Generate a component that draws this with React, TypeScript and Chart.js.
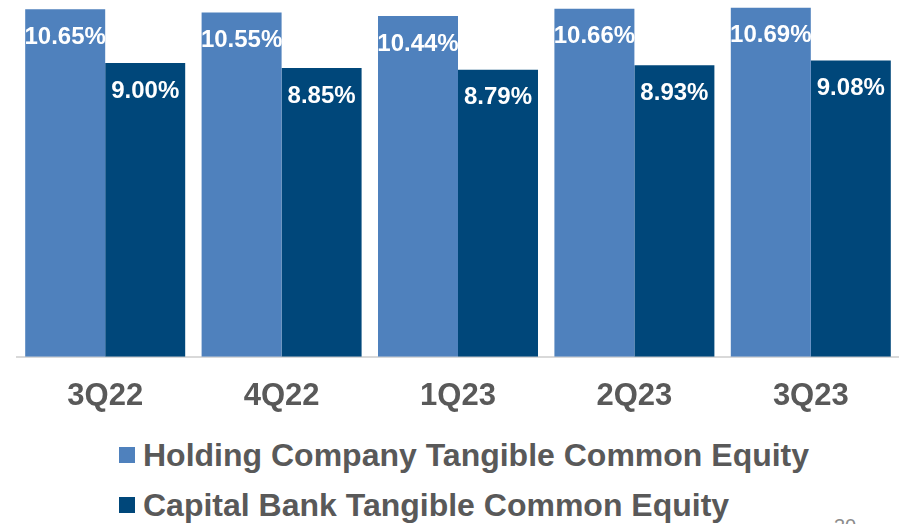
import React, { useEffect, useRef } from "react";
import { Chart, registerables } from "chart.js";

Chart.register(...registerables);

const categories = ["3Q22", "4Q22", "1Q23", "2Q23", "3Q23"];
const holdingValues = [10.65, 10.55, 10.44, 10.66, 10.69];
const bankValues = [9.0, 8.85, 8.79, 8.93, 9.08];
const seriesNames = [
  "Holding Company Tangible Common Equity",
  "Capital Bank Tangible Common Equity",
];
const seriesColors = ["#4F81BD", "#00477A"];

const FONT = "'Liberation Sans', Arial, sans-serif";

const valueLabels = {
  id: "valueLabels",
  afterDatasetsDraw(chart: any) {
    const ctx = chart.ctx;
    ctx.save();
    ctx.font = `bold 24px ${FONT}`;
    ctx.fillStyle = "#FFFFFF";
    ctx.textAlign = "center";
    ctx.textBaseline = "middle";
    chart.data.datasets.forEach((ds: any, di: number) => {
      const meta = chart.getDatasetMeta(di);
      meta.data.forEach((bar: any, i: number) => {
        const v = ds.data[i] as number;
        ctx.fillText(v.toFixed(2) + "%", bar.x, bar.y + 28);
      });
    });
    ctx.restore();
  },
};

export default function App() {
  const ref = useRef<HTMLCanvasElement>(null);

  useEffect(() => {
    document.body.style.margin = "0";
    const chart = new Chart(ref.current as HTMLCanvasElement, {
      type: "bar",
      data: {
        labels: categories,
        datasets: [
          {
            label: seriesNames[0],
            data: holdingValues,
            backgroundColor: seriesColors[0],
            barPercentage: 1,
            categoryPercentage: 0.907,
          },
          {
            label: seriesNames[1],
            data: bankValues,
            backgroundColor: seriesColors[1],
            barPercentage: 1,
            categoryPercentage: 0.907,
          },
        ],
      },
      options: {
        animation: false,
        responsive: false,
        maintainAspectRatio: false,
        layout: { padding: { left: 17, right: 0, top: 0, bottom: 0 } },
        plugins: {
          legend: { display: false },
          tooltip: { enabled: false },
        },
        scales: {
          x: {
            grid: { display: false, drawTicks: false },
            border: { display: true, color: "#D9D9D9", width: 2 },
            ticks: {
              color: "#595959",
              font: { family: FONT, size: 31, weight: "bold" },
              padding: 21,
              maxRotation: 0,
            },
          },
          y: {
            display: false,
            min: 0,
            max: 10.93,
          },
        },
      },
      plugins: [valueLabels],
    });
    return () => chart.destroy();
  }, []);

  return (
    <div
      style={{
        position: "fixed",
        left: 0,
        top: 0,
        width: 899,
        height: 524,
        background: "#FFFFFF",
        overflow: "hidden",
        fontFamily: FONT,
      }}
    >
      <canvas ref={ref} width={899} height={436} style={{ display: "block" }} />
      {seriesNames.map((name, i) => (
        <div
          key={name}
          style={{
            position: "absolute",
            left: 119,
            top: 436 + i * 50,
            height: 38,
            display: "flex",
            alignItems: "center",
            whiteSpace: "nowrap",
          }}
        >
          <span
            style={{
              display: "inline-block",
              width: 16,
              height: 16,
              background: seriesColors[i],
              marginRight: 8,
            }}
          />
          <span
            style={{
              fontSize: 32,
              fontWeight: "bold",
              color: "#595959",
              lineHeight: "38px",
            }}
          >
            {name}
          </span>
        </div>
      ))}
      <div
        style={{
          position: "absolute",
          left: 834,
          top: 514,
          fontSize: 20,
          color: "#8C8C8C",
          lineHeight: "24px",
        }}
      >
        30
      </div>
    </div>
  );
}
